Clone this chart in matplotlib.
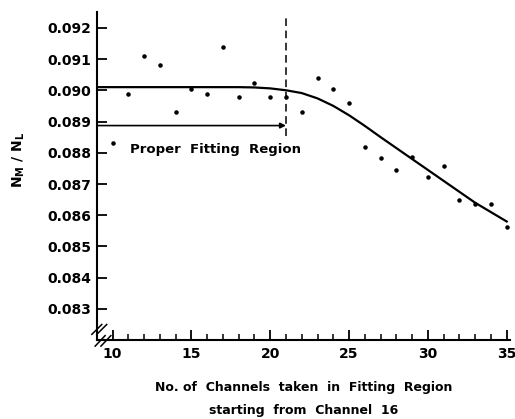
import matplotlib.pyplot as plt
import numpy as np

# measured points: channels taken vs N_M/N_L
channels = [10, 11, 12, 13, 14, 15, 16, 17, 18, 19, 20, 21, 22, 23, 24, 25,
            26, 27, 28, 29, 30, 31, 32, 33, 34, 35]
ratio = [0.08832, 0.08987, 0.0911, 0.0908, 0.08932, 0.09003, 0.08987, 0.09139,
         0.0898, 0.09022, 0.08977, 0.08977, 0.08929, 0.09039, 0.09003, 0.08958,
         0.08819, 0.08784, 0.08745, 0.08787, 0.08723, 0.08758, 0.08648, 0.08635,
         0.08636, 0.08561]

# fitted curve
fit_x = [9, 18, 19, 20, 21, 22, 23, 24, 25, 26, 27, 28, 29, 30, 31, 32, 33, 34, 35]
fit_y = [0.0901, 0.0901, 0.09009, 0.09006, 0.09, 0.08991, 0.08974, 0.0895,
         0.0892, 0.08886, 0.0885, 0.08815, 0.0878, 0.08745, 0.0871, 0.08675,
         0.0864, 0.0861, 0.0858]

xticks = [10, 15, 20, 25, 30, 35]
yticks = [0.083, 0.084, 0.085, 0.086, 0.087, 0.088, 0.089, 0.090, 0.091, 0.092]

plt.rcParams['font.family'] = 'DejaVu Sans'
plt.rcParams['font.weight'] = 'bold'

fig = plt.figure(figsize=(5.15, 4.19), dpi=100)
ax = fig.add_axes([0.188, 0.188, 0.802, 0.783])

ax.scatter(channels, ratio, s=5, color='black', zorder=3)
ax.plot(fit_x, fit_y, color='black', lw=1.6)

# fitting region marker
ax.plot([21, 21], [0.08855, 0.0923], color='black', lw=1.1, ls=(0, (5, 3)))
ax.annotate('', xy=(21, 0.08887), xytext=(9, 0.08887),
            arrowprops=dict(arrowstyle='-|>', color='black', lw=1.2,
                            mutation_scale=8, shrinkA=0, shrinkB=0))
ax.text(11.1, 0.08812, 'Proper  Fitting  Region', fontsize=9.5,
        fontweight='bold', va='center')

ax.set_xlim(9, 35.2)
ax.set_ylim(0.082, 0.0925)
ax.set_xticks(xticks)
ax.set_xticks(np.arange(10, 36), minor=True)
ax.set_yticks(yticks)
ax.set_yticklabels(['%.3f' % v for v in yticks])
ax.tick_params(axis='both', direction='in', length=7, width=1.3,
               labelsize=10, pad=5)
ax.tick_params(axis='x', which='minor', direction='in', length=4, width=1.1)
ax.tick_params(axis='y', pad=4)

for side in ['top', 'right']:
    ax.spines[side].set_visible(False)
for side in ['left', 'bottom']:
    ax.spines[side].set_linewidth(1.5)

# axis break marks
for dx in [0, 0.012]:
    ax.plot([-0.012 + dx, 0.012 + dx], [0.018, 0.048], transform=ax.transAxes,
            color='black', lw=1.1, clip_on=False)
for dx in [0, 0.014]:
    ax.plot([-0.004 + dx, 0.02 + dx], [-0.018, 0.014], transform=ax.transAxes,
            color='black', lw=1.1, clip_on=False)

ax.set_ylabel(r'N$_{\mathbf{M}}$ / N$_{\mathbf{L}}$', fontsize=10,
              fontweight='bold')
ax.yaxis.set_label_coords(-0.17, 0.55)
fig.text(0.59, 0.068, 'No. of  Channels  taken  in  Fitting  Region',
         ha='center', fontsize=9, fontweight='bold')
fig.text(0.59, 0.012, 'starting  from  Channel  16',
         ha='center', fontsize=9, fontweight='bold')

fig.savefig('out.png', dpi=100)
